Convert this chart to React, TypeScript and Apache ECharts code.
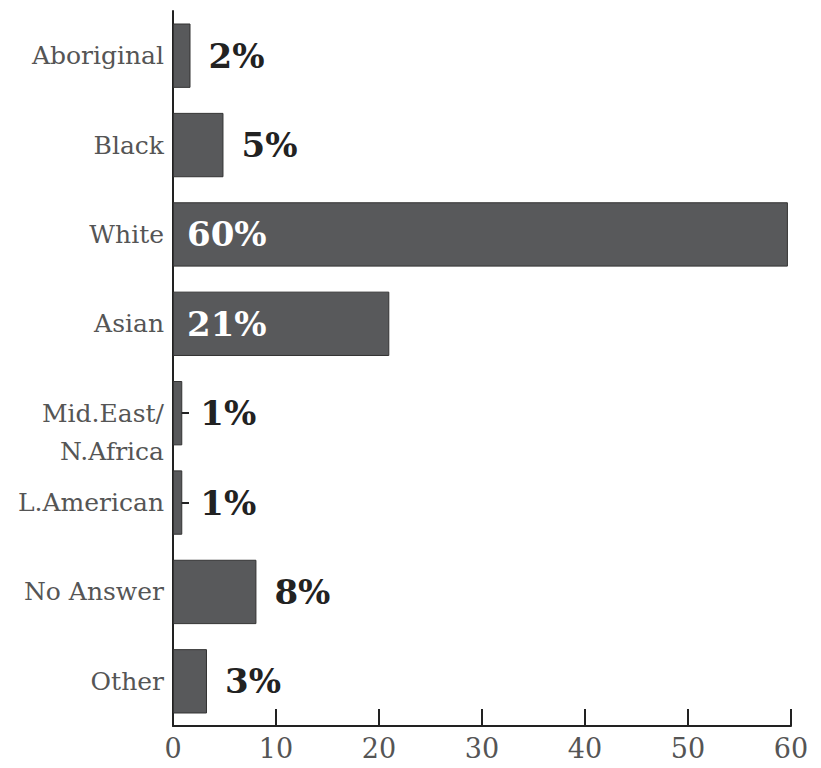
import React, { useEffect, useRef } from "react";
import * as echarts from "echarts";

const categories = [
  "Aboriginal",
  "Black",
  "White",
  "Asian",
  "Mid.East/\nN.Africa",
  "L.American",
  "No Answer",
  "Other",
];
const values = [1.7, 4.9, 59.7, 21.0, 0.9, 0.9, 8.1, 3.3];
const xTicks = [0, 10, 20, 30, 40, 50, 60];

const SERIF = "'DejaVu Serif', serif";

export default function App() {
  const ref = useRef<HTMLDivElement>(null);
  useEffect(() => {
    if (!ref.current) return;
    const chart = echarts.init(ref.current, undefined, { renderer: "svg" });
    const data = values.map((v) => {
      const inside = v > 15;
      return {
        value: v,
        label: inside
          ? { position: "insideLeft", distance: 14, color: "#ffffff" }
          : { position: "right", distance: 18, color: "#222222" },
      };
    });
    chart.setOption({
      animation: false,
      backgroundColor: "#ffffff",
      grid: { left: 173, right: 30, top: 11, bottom: 42, containLabel: false },
      xAxis: {
        type: "value",
        min: xTicks[0],
        max: xTicks[xTicks.length - 1],
        interval: 10,
        splitLine: { show: false },
        axisLine: { show: true, lineStyle: { color: "#222", width: 2 } },
        axisTick: { show: true, inside: true, length: 17, lineStyle: { color: "#222", width: 2 } },
        axisLabel: { color: "#555", fontFamily: SERIF, fontSize: 27, margin: 9 },
      },
      yAxis: {
        type: "category",
        data: categories,
        inverse: true,
        axisLine: { show: true, lineStyle: { color: "#222", width: 2 } },
        axisTick: {
          show: true,
          inside: true,
          alignWithLabel: true,
          length: 16,
          lineStyle: { color: "#222", width: 2 },
        },
        axisLabel: {
          color: "#555",
          fontFamily: SERIF,
          fontSize: 25,
          margin: 9,
          lineHeight: 38,
          formatter: (v: string) => (v.indexOf("\n") >= 0 ? " \n" + v : v),
        },
      },
      series: [
        {
          type: "bar",
          data,
          barCategoryGap: "28%",
          itemStyle: { color: "#58595b", borderColor: "#333333", borderWidth: 1 },
          label: {
            show: true,
            fontFamily: SERIF,
            fontWeight: "bold",
            fontSize: 34,
            formatter: (p: any) => Math.round(p.value) + "%",
          },
        },
      ],
    });
    return () => chart.dispose();
  }, []);
  return (
    <div
      ref={ref}
      style={{ position: "fixed", left: 0, top: 0, width: 821, height: 768 }}
    />
  );
}
